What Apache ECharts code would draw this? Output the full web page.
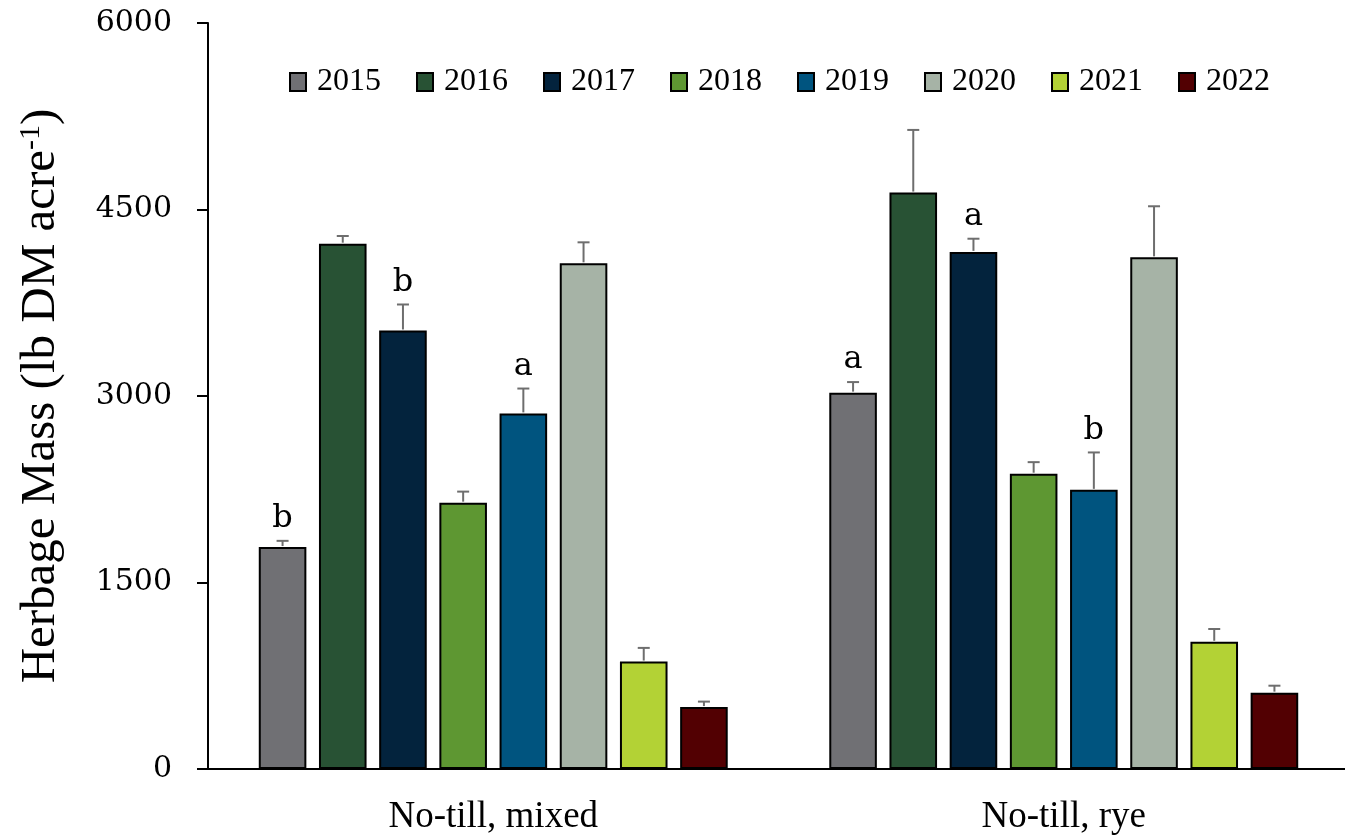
<!DOCTYPE html>
<html>
<head>
<meta charset="utf-8">
<script src="https://cdn.jsdelivr.net/npm/echarts@6/dist/echarts.min.js"></script>
<style>
  html, body { margin: 0; padding: 0; background: #fff; }
  #chart { width: 1345px; height: 839px; }
</style>
</head>
<body>
<div id="chart"></div>
<script>
// Tillage systems (x categories) and sampling years (series)
const groups = ['No-till, mixed', 'No-till, rye'];
const years = ['2015', '2016', '2017', '2018', '2019', '2020', '2021', '2022'];
const yearColors = ['#707074', '#285234', '#03233D', '#5E9732', '#00547F', '#A6B3A6', '#B3D235', '#520002'];

// Mean herbage mass (lb DM/acre) and standard errors, per year
const mixedMean = [1785, 4225, 3527, 2142, 2860, 4067, 864, 498];
const mixedSE   = [50, 62, 209, 89, 200, 169, 110, 44];
const ryeMean   = [3027, 4636, 4159, 2375, 2245, 4115, 1023, 614];
const ryeSE     = [85, 504, 106, 93, 301, 411, 103, 56];

// Mean separation letters (empty = none shown)
const mixedLetters = ['b', '', 'b', '', 'a', '', '', ''];
const ryeLetters   = ['a', '', 'a', '', 'b', '', '', ''];

// Y axis ticks
const yTicks = [0, 1500, 3000, 4500, 6000];

const CAT_GAP = 0.178;
const BAR_GAP = 0.265;
const nBars = years.length;

const means = [mixedMean, ryeMean];
const ses = [mixedSE, ryeSE];
const letters = [mixedLetters, ryeLetters];

const series = [];
years.forEach((yr, k) => {
  series.push({
    name: yr,
    type: 'bar',
    barGap: (BAR_GAP * 100) + '%',
    barCategoryGap: (CAT_GAP * 100) + '%',
    data: [mixedMean[k], ryeMean[k]],
    itemStyle: { color: yearColors[k], borderColor: '#000', borderWidth: 2 },
    emphasis: { disabled: true },
    z: 2
  });
});

// Error bars with letters, placed over each bar of the year k
years.forEach((yr, k) => {
  series.push({
    type: 'custom',
    name: 'err' + yr,
    z: 5,
    silent: true,
    data: groups.map((g, gi) => [gi, means[gi][k], ses[gi][k]]),
    renderItem: function (params, api) {
      const gi = api.value(0);
      const mean = api.value(1);
      const se = api.value(2);
      const base = api.coord([gi, mean]);
      const tip = api.coord([gi, mean + se]);
      const band = api.size([1, 0])[0];
      const total = band * (1 - CAT_GAP);
      const bw = total / (nBars + (nBars - 1) * BAR_GAP);
      const x = base[0] - total / 2 + bw / 2 + k * bw * (1 + BAR_GAP);
      const capHalf = 6;
      const style = { stroke: '#6E6E6E', lineWidth: 2 };
      const children = [
        { type: 'line', shape: { x1: x, y1: base[1] - 1, x2: x, y2: tip[1] }, style: style },
        { type: 'line', shape: { x1: x - capHalf, y1: tip[1], x2: x + capHalf, y2: tip[1] }, style: style }
      ];
      const lt = letters[gi][k];
      if (lt) {
        children.push({
          type: 'text',
          style: {
            x: x, y: tip[1] - 6, text: lt,
            align: 'center', verticalAlign: 'bottom',
            font: '32px "DejaVu Serif"', fill: '#000'
          }
        });
      }
      return { type: 'group', children: children };
    }
  });
});

const chart = echarts.init(document.getElementById('chart'), null, { renderer: 'canvas' });
chart.setOption({
  animation: false,
  backgroundColor: '#fff',
  grid: { left: 208, right: -4, top: 23, bottom: 70, containLabel: false, outerBoundsMode: 'none' },
  legend: {
    data: years,
    left: 289,
    top: 66,
    padding: 0,
    itemWidth: 16,
    itemHeight: 18,
    itemGap: 35,
    icon: 'rect',
    textStyle: { fontFamily: 'Liberation Serif', fontSize: 32, color: '#000', padding: [0, 0, 0, 6] }
  },
  xAxis: {
    type: 'category',
    data: groups,
    axisLine: { lineStyle: { color: '#000', width: 2 } },
    axisTick: { show: false },
    axisLabel: { fontFamily: 'Liberation Serif', fontSize: 37, color: '#000', margin: 30 }
  },
  yAxis: {
    type: 'value',
    min: yTicks[0],
    max: yTicks[yTicks.length - 1],
    interval: yTicks[1] - yTicks[0],
    name: '{n|Herbage Mass (lb DM acre}{s|-1}{n|)}',
    nameLocation: 'middle',
    nameGap: 142,
    nameRotate: 90,
    nameTextStyle: {
      rich: {
        n: { fontFamily: 'Liberation Serif', fontSize: 49, color: '#000' },
        s: { fontFamily: 'Liberation Serif', fontSize: 30, color: '#000', verticalAlign: 'top', padding: [0, 0, 20, 0] }
      }
    },
    axisLine: { show: true, lineStyle: { color: '#000', width: 2 } },
    axisTick: { show: true, length: 11, lineStyle: { color: '#000', width: 2 } },
    splitLine: { show: false },
    axisLabel: {
      fontFamily: 'DejaVu Serif', fontSize: 30, color: '#000', margin: 36,
      formatter: function (v) { return String(v); }
    }
  },
  series: series
});
</script>
</body>
</html>
